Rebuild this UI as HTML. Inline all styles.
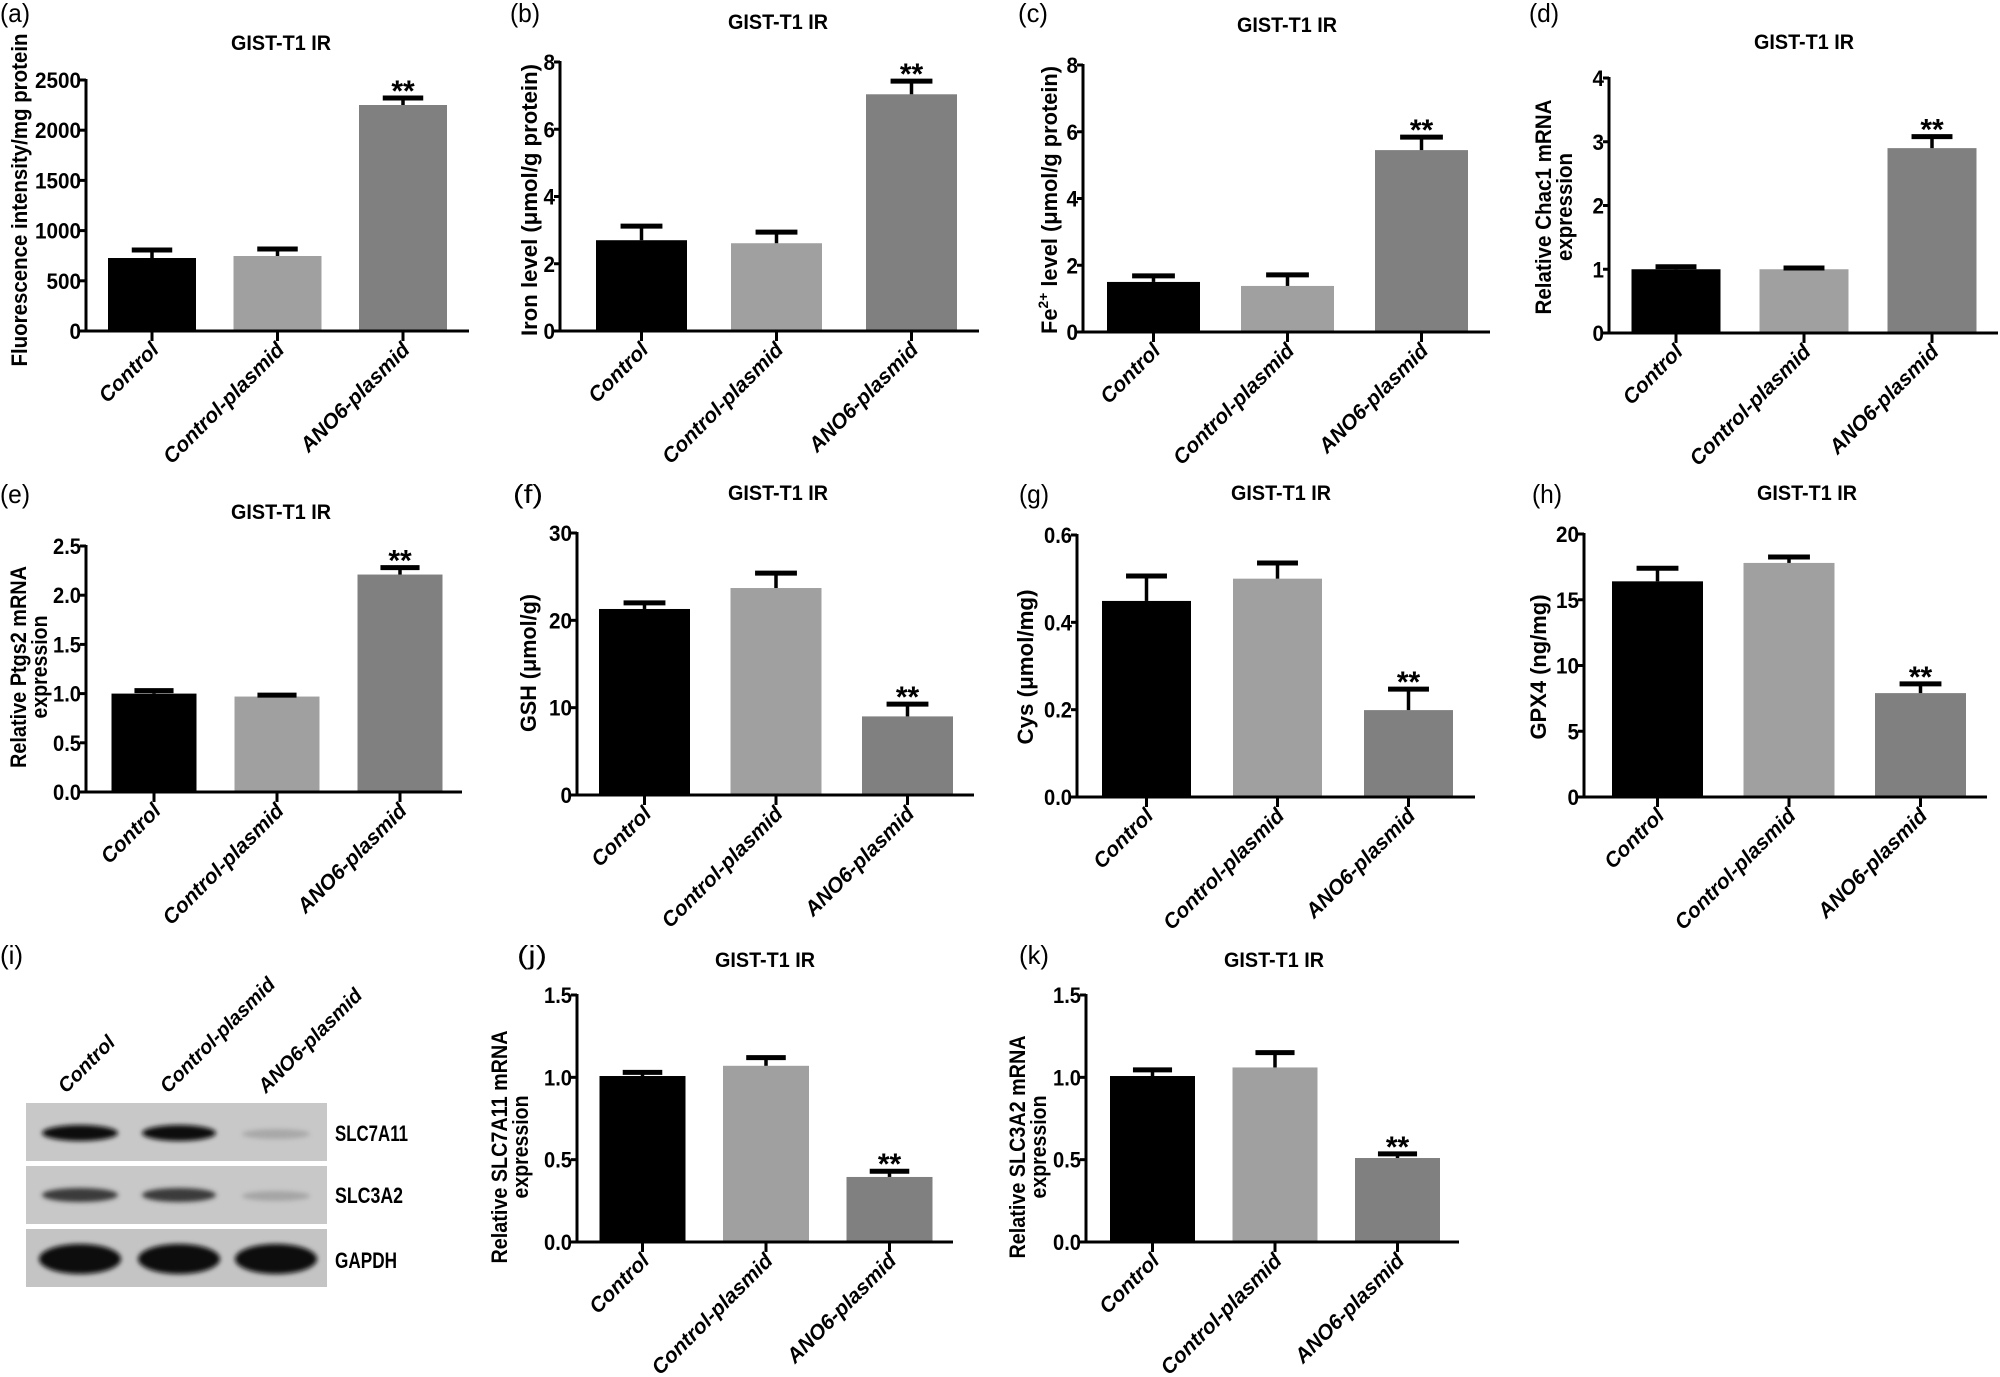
<!DOCTYPE html>
<html><head><meta charset="utf-8"><style>
html,body{margin:0;padding:0;background:#fff}
svg{display:block}
text{font-family:"Liberation Sans",sans-serif}
</style></head><body>
<svg id="fig" width="2000" height="1377" viewBox="0 0 2000 1377" xmlns="http://www.w3.org/2000/svg">
<defs><filter id="blur" x="-20%" y="-50%" width="140%" height="200%"><feGaussianBlur stdDeviation="2.5"/></filter></defs>
<g id="blot">
<text x="0" y="964" font-size="26">(i)</text>
<text transform="translate(66,1094) rotate(-45)" font-size="20" font-style="italic" font-weight="bold">Control</text>
<text transform="translate(168,1094) rotate(-45)" font-size="20" font-style="italic" font-weight="bold">Control-plasmid</text>
<text transform="translate(266,1094) rotate(-45)" font-size="20" font-style="italic" font-weight="bold">ANO6-plasmid</text>
<rect x="26" y="1103" width="301" height="58" fill="#c8c8c8"/>
<rect x="26" y="1166" width="301" height="58" fill="#c8c8c8"/>
<rect x="26" y="1229" width="301" height="58" fill="#c4c4c4"/>
<g filter="url(#blur)">
<ellipse cx="80" cy="1133" rx="38" ry="8" fill="#111"/>
<ellipse cx="179" cy="1133" rx="37" ry="8" fill="#111"/>
<ellipse cx="276" cy="1134" rx="34" ry="5" fill="#a8a8a8"/>
<ellipse cx="80" cy="1195" rx="38" ry="7" fill="#3a3a3a"/>
<ellipse cx="179" cy="1195" rx="37" ry="7" fill="#3a3a3a"/>
<ellipse cx="276" cy="1196" rx="34" ry="5" fill="#a5a5a5"/>
<ellipse cx="80" cy="1259" rx="41" ry="15" fill="#080808"/>
<ellipse cx="179" cy="1259" rx="41" ry="15" fill="#080808"/>
<ellipse cx="276" cy="1259" rx="41" ry="15" fill="#080808"/>
</g>
<text x="335" y="1141" font-size="22" font-weight="bold" textLength="73" lengthAdjust="spacingAndGlyphs">SLC7A11</text>
<text x="335" y="1203" font-size="22" font-weight="bold" textLength="68" lengthAdjust="spacingAndGlyphs">SLC3A2</text>
<text x="335" y="1268" font-size="22" font-weight="bold" textLength="62" lengthAdjust="spacingAndGlyphs">GAPDH</text>
</g>
</svg>
<script>
const categories = ["Control","Control-plasmid","ANO6-plasmid"];
const valsA = [727, 747, 2251];   const errA = [80, 70, 70];
const valsB = [2.70, 2.61, 7.04]; const errB = [0.42, 0.33, 0.39];
const valsC = [1.50, 1.38, 5.45]; const errC = [0.18, 0.33, 0.39];
const valsD = [1.00, 1.00, 2.90]; const errD = [0.04, 0.02, 0.18];
const valsE = [1.00, 0.97, 2.21]; const errE = [0.03, 0.015, 0.07];
const valsF = [21.3, 23.7, 9.0];  const errF = [0.7, 1.7, 1.4];
const valsG = [0.449, 0.50, 0.199]; const errG = [0.057, 0.036, 0.048];
const valsH = [16.4, 17.8, 7.9];  const errH = [1.0, 0.45, 0.7];
const valsJ = [1.008, 1.07, 0.395]; const errJ = [0.022, 0.05, 0.035];
const valsK = [1.008, 1.06, 0.51]; const errK = [0.037, 0.09, 0.025];
const ticksA = ["0","500","1000","1500","2000","2500"];
const ticksB = ["0","2","4","6","8"];
const ticksC = ["0","2","4","6","8"];
const ticksD = ["0","1","2","3","4"];
const ticksE = ["0.0","0.5","1.0","1.5","2.0","2.5"];
const ticksF = ["0","10","20","30"];
const ticksG = ["0.0","0.2","0.4","0.6"];
const ticksH = ["0","5","10","15","20"];
const ticksJ = ["0.0","0.5","1.0","1.5"];
const ticksK = ["0.0","0.5","1.0","1.5"];
const sig = ["", "", "**"];

const NS = "http://www.w3.org/2000/svg";
const svg = document.getElementById("fig");
const colors = ["#000000","#a0a0a0","#808080"];
function mk(tag, attrs, parent){ const e=document.createElementNS(NS,tag); for(const k in attrs) e.setAttribute(k,attrs[k]); parent.appendChild(e); return e; }

const panels = [
 {id:"a", vals:valsA, errs:errA, ticks:ticksA, ax:86, base:331, top:80, axEnd:469, c0:152, step:125.5, bw:88, lbl:[0,22], title:[281,50], yt:[20,200], ytitle:["Fluorescence intensity/mg protein"], ytLen:[333]},
 {id:"b", vals:valsB, errs:errB, ticks:ticksB, ax:560, base:331, top:62, axEnd:979, c0:641.5, step:135, bw:91, lbl:[510,22], title:[778,29], yt:[530,200], ytitle:["Iron level (\u03bcmol/g protein)"], ytLen:[272]},
 {id:"c", vals:valsC, errs:errC, ticks:ticksC, ax:1083, base:332, top:65, axEnd:1490, c0:1153.5, step:134, bw:93, lbl:[1018,22], title:[1287,32], yt:[1050,200], ytitle:["FE"], ytLen:[268]},
 {id:"d", vals:valsD, errs:errD, ticks:ticksD, ax:1609, base:333, top:78, axEnd:1998, c0:1676, step:128, bw:89, lbl:[1529,22], title:[1804,49], yt:[1544,207], ytitle:["Relative Chac1 mRNA","expression"], ytLen:[215,108]},
 {id:"e", vals:valsE, errs:errE, ticks:ticksE, ax:86, base:792, top:546, axEnd:462, c0:154, step:123, bw:85, lbl:[0,503], title:[281,519], yt:[19,667], ytitle:["Relative Ptgs2 mRNA","expression"], ytLen:[202,103]},
 {id:"f", vals:valsF, errs:errF, ticks:ticksF, ax:577, base:795, top:533, axEnd:974, c0:644.5, step:131.5, bw:91, lbl:[513,503], title:[778,500], yt:[529,663], ytitle:["GSH (\u03bcmol/g)"], ytLen:[138]},
 {id:"g", vals:valsG, errs:errG, ticks:ticksG, ax:1077, base:797, top:535, axEnd:1475, c0:1146.5, step:131, bw:89, lbl:[1019,503], title:[1281,500], yt:[1026,667], ytitle:["Cys (\u03bcmol/mg)"], ytLen:[155]},
 {id:"h", vals:valsH, errs:errH, ticks:ticksH, ax:1584, base:797, top:534, axEnd:1987, c0:1657.5, step:131.5, bw:91, lbl:[1532,503], title:[1807,500], yt:[1539,667], ytitle:["GPX4 (ng/mg)"], ytLen:[145]},
 {id:"j", vals:valsJ, errs:errJ, ticks:ticksJ, ax:577, base:1242, top:995, axEnd:953, c0:642.5, step:123.5, bw:86, lbl:[517,964], title:[765,967], yt:[500,1147], ytitle:["Relative SLC7A11 mRNA","expression"], ytLen:[233,103]},
 {id:"k", vals:valsK, errs:errK, ticks:ticksK, ax:1086, base:1242, top:995, axEnd:1459, c0:1152.5, step:122.5, bw:85, lbl:[1019,964], title:[1274,967], yt:[1018,1147], ytitle:["Relative SLC3A2 mRNA","expression"], ytLen:[223,103]}
];

panels.forEach(p => {
  const g = mk("g", {}, svg);
  
  
  const maxV = parseFloat(p.ticks[p.ticks.length-1]);
  const y = v => p.base - (v / maxV) * (p.base - p.top);
  const xc = i => p.c0 + i * p.step;

  const pl = mk("text", {x:p.lbl[0], y:p.lbl[1], "font-size":26, textLength:30, lengthAdjust:"spacingAndGlyphs"}, g);
  pl.textContent = "(" + p.id + ")";
  
  

  const t = mk("text", {x:p.title[0], y:p.title[1], "font-size":21, "font-weight":"bold", "text-anchor":"middle", textLength:100, lengthAdjust:"spacingAndGlyphs"}, g);
  t.textContent = "GIST-T1 IR";
  
  

  const n = p.ytitle.length;
  p.ytitle.forEach((s, li) => {
    const xx = p.yt[0] + (n === 2 ? li * 21 : 0) + 7;
    const tt = mk("text", {transform:"translate(" + xx + "," + p.yt[1] + ") rotate(-90)", "font-size":22, "font-weight":"bold", "text-anchor":"middle", textLength:p.ytLen[li], lengthAdjust:"spacingAndGlyphs"}, g);
    if (s === "FE") {
      tt.appendChild(document.createTextNode("Fe"));
      const sp = mk("tspan", {"font-size":14, dy:-9}, tt); sp.textContent = "2+";
      const sp2 = mk("tspan", {dy:9}, tt); sp2.textContent = " level (\u03bcmol/g protein)";
    } else tt.textContent = s;
    
    
  });

  p.vals.forEach((v, i) => {
    const r = mk("rect", {x:xc(i) - p.bw/2, y:y(v), width:p.bw, height:p.base - y(v), fill:colors[i]}, g);
    
    
    const et = y(v + p.errs[i]);
    const st = mk("line", {x1:xc(i), x2:xc(i), y1:y(v), y2:et, stroke:"#000", "stroke-width":3.5}, g);
    
    
    const cw = p.bw * 0.46;
    const cap = mk("line", {x1:xc(i) - cw/2, x2:xc(i) + cw/2, y1:et, y2:et, stroke:"#000", "stroke-width":5}, g);
    
    
    if (sig[i]) {
      const s = mk("text", {x:xc(i), y:et + 3, "font-size":30, "font-weight":"bold", "text-anchor":"middle"}, g);
      s.textContent = sig[i];
      
      
    }
    const tk = mk("line", {x1:xc(i), x2:xc(i), y1:p.base, y2:p.base + 10, stroke:"#000", "stroke-width":3}, g);
    
    
    const cl = mk("text", {transform:"translate(" + (xc(i) + 8) + "," + (p.base + 20) + ") rotate(-45)", "font-size":21, "font-weight":"bold", "font-style":"italic", "text-anchor":"end"}, g);
    cl.textContent = categories[i];
    
    
  });

  const ya = mk("line", {x1:p.ax, x2:p.ax, y1:p.top - 1, y2:p.base + 1.5, stroke:"#000", "stroke-width":3}, g);
  
  
  const xa = mk("line", {x1:p.ax - 1.5, x2:p.axEnd, y1:p.base, y2:p.base, stroke:"#000", "stroke-width":3}, g);
  
  
  p.ticks.forEach(tl => {
    const v = parseFloat(tl);
    const tk = mk("line", {x1:p.ax - 6, x2:p.ax, y1:y(v), y2:y(v), stroke:"#000", "stroke-width":3}, g);
    
    
    const digits = tl.replace(".", "").length, dots = tl.length - digits;
    const lb = mk("text", {x:p.ax - 5, y:y(v) + 8, "font-size":22, "font-weight":"bold", "text-anchor":"end", textLength:digits * 11.5 + dots * 5, lengthAdjust:"spacingAndGlyphs"}, g);
    lb.textContent = tl;
    
    
  });
});
</script>
</body></html>
